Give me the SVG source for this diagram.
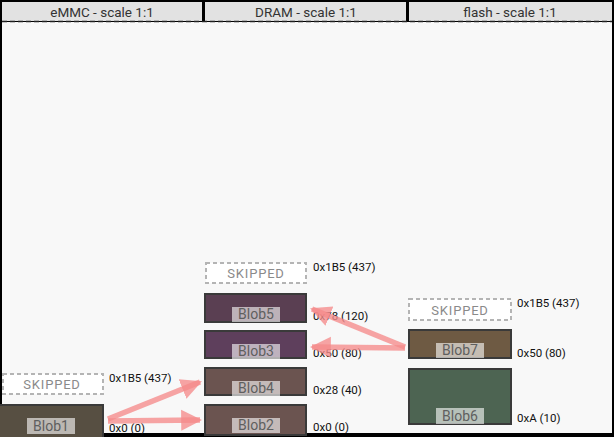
<svg xmlns="http://www.w3.org/2000/svg" width="614" height="437" viewBox="0 0 614 437">
<defs>
<style>
.hdr{fill:#e2e2e2}
.ht{font-family:Roboto,"Liberation Sans",sans-serif;font-size:13.5px;fill:#333;text-anchor:middle}
.skip{fill:#fff;stroke:#b4b4b4;stroke-width:2;stroke-dasharray:4 3}
.skt{font-family:Roboto,"Liberation Sans",sans-serif;font-size:13px;fill:#8a8a8a;text-anchor:middle;letter-spacing:0.8px}
.blob{stroke:#3a3a3a;stroke-width:2}
.lb{fill:#fff;fill-opacity:0.6}
.lt{font-family:Roboto,"Liberation Sans",sans-serif;font-size:14px;fill:#5f5f5f;text-anchor:middle}
.addr{font-family:Roboto,"Liberation Sans",sans-serif;font-size:11.5px;fill:#111}
.arr{stroke:#f58a8a;stroke-opacity:0.78;stroke-width:5.5;fill:none;marker-end:url(#ah)}
</style>
<marker id="ah" viewBox="0 0 10 10" refX="9" refY="5" markerWidth="3.8" markerHeight="4.2" orient="auto" markerUnits="strokeWidth">
<path d="M0,0 L10,5 L0,10 z" fill="#f58a8a" fill-opacity="0.78"/>
</marker>
</defs>
<rect x="0" y="0" width="614" height="437" fill="#000"/>
<rect x="2" y="22" width="610" height="411" fill="#f8f8f8"/>
<g id="headers">
<rect class="hdr" x="2" y="2" width="200" height="19"/>
<rect class="hdr" x="205" y="2" width="201" height="19"/>
<rect class="hdr" x="409" y="2" width="203" height="19"/>
<text class="ht" x="102" y="17">eMMC - scale 1:1</text>
<text class="ht" x="306" y="17">DRAM - scale 1:1</text>
<text class="ht" x="510" y="17">flash - scale 1:1</text>
<line x1="2" y1="21.5" x2="612" y2="21.5" stroke="#222" stroke-width="1.5" stroke-dasharray="5 3"/>
</g>
<g id="emmc-skipped">
<rect class="skip" x="3" y="374" width="100" height="20"/>
<text class="skt" x="52" y="389">SKIPPED</text>
</g>
<g id="blob1">
<rect class="blob" x="-1" y="405" width="104" height="34" fill="#574f42"/>
<rect class="lb" x="27" y="418" width="48" height="16"/>
<text class="lt" x="51" y="431">Blob1</text>
</g>
<g id="dram-skipped">
<rect class="skip" x="206" y="263" width="100" height="20"/>
<text class="skt" x="256" y="278">SKIPPED</text>
</g>
<g id="blob5">
<rect class="blob" x="205" y="294" width="101" height="28" fill="#5a3f52"/>
<rect class="lb" x="232" y="307" width="48" height="15"/>
<text class="lt" x="256" y="319">Blob5</text>
</g>
<g id="blob3">
<rect class="blob" x="205" y="331" width="101" height="27" fill="#5e3f5c"/>
<rect class="lb" x="232" y="344" width="48" height="15"/>
<text class="lt" x="256" y="356">Blob3</text>
</g>
<g id="blob4">
<rect class="blob" x="205" y="368" width="101" height="27" fill="#6b5450"/>
<rect class="lb" x="232" y="381" width="48" height="15"/>
<text class="lt" x="256" y="393">Blob4</text>
</g>
<g id="blob2">
<rect class="blob" x="205" y="405" width="101" height="30" fill="#6b5450"/>
<rect class="lb" x="232" y="418" width="48" height="15"/>
<text class="lt" x="256" y="430">Blob2</text>
</g>
<g id="flash-skipped">
<rect class="skip" x="409" y="299" width="102" height="21"/>
<text class="skt" x="460" y="315">SKIPPED</text>
</g>
<g id="blob7">
<rect class="blob" x="409" y="330" width="102" height="28" fill="#6e5a43"/>
<rect class="lb" x="436" y="343" width="48" height="15"/>
<text class="lt" x="460" y="355">Blob7</text>
</g>
<g id="blob6">
<rect class="blob" x="409" y="369" width="102" height="55" fill="#4d6452"/>
<rect class="lb" x="436" y="408" width="48" height="16"/>
<text class="lt" x="460" y="421">Blob6</text>
</g>
<g id="addresses">
<text class="addr" x="109" y="382">0x1B5 (437)</text>
<text class="addr" x="109" y="432">0x0 (0)</text>
<text class="addr" x="313" y="271">0x1B5 (437)</text>
<text class="addr" x="313" y="320">0x78 (120)</text>
<text class="addr" x="313" y="357">0x50 (80)</text>
<text class="addr" x="313" y="394">0x28 (40)</text>
<text class="addr" x="313" y="431">0x0 (0)</text>
<text class="addr" x="517" y="307">0x1B5 (437)</text>
<text class="addr" x="517" y="357">0x50 (80)</text>
<text class="addr" x="517" y="422">0xA (10)</text>
</g>
<g id="connectors">
<line class="arr" x1="108" y1="419" x2="200" y2="382"/>
<line class="arr" x1="108" y1="421" x2="200" y2="420"/>
<line class="arr" x1="405" y1="347" x2="312" y2="309"/>
<line class="arr" x1="405" y1="348" x2="312" y2="347"/>
</g>
</svg>
